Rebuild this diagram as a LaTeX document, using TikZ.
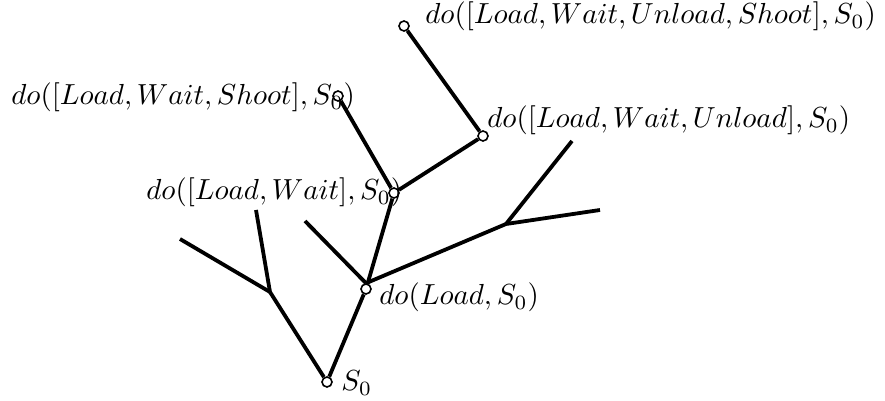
\documentclass[tikz,border=0pt]{standalone}
\begin{document}
\begin{tikzpicture}[x=0.5pt,y=-0.5pt,
  sit/.style={circle,draw,line width=0.8pt,inner sep=0pt,minimum size=5pt,fill=white},
  br/.style={line width=1.9pt},
  lab/.style={anchor=base west,inner sep=0pt}]
\newcommand{\sitlab}[1]{\scalebox{1.45}{$#1$}}
\useasboundingbox (0,0) rectangle (885,401);
% branch points
\coordinate (a) at (270,292);
\coordinate (a1) at (180,239);
\coordinate (a2) at (256,210);
\coordinate (b) at (506,224);
\coordinate (b1) at (572,141);
\coordinate (b2) at (600,210);
\coordinate (c1) at (305,221);
% edges
\node[sit,draw=none,fill=none] (s0) at (327,382) {};
\node[sit,draw=none,fill=none] (l) at (366,289) {};
\node[sit,draw=none,fill=none] (lw) at (394,193) {};
\node[sit,draw=none,fill=none] (lws) at (338,96) {};
\node[sit,draw=none,fill=none] (lwu) at (483,136) {};
\node[sit,draw=none,fill=none] (lwus) at (404,26) {};
\draw[br] (s0) -- (l);
\draw[br] (s0) -- (a);
\draw[br] (a) -- (a1);
\draw[br] (a) -- (a2);
\draw[br] (l) -- (lw);
\draw[br] (l.north) -- (c1);
\draw[br] (l.north) -- (b);
\draw[br] (b) -- (b1);
\draw[br] (b) -- (b2);
\draw[br] (lw) -- (lws);
\draw[br] (lw) -- (lwu);
\draw[br] (lwu) -- (lwus);
% situation circles
\foreach \n in {s0,l,lw,lws,lwu,lwus}
  \draw[line width=0.8pt] (\n.center) circle[radius=2.5pt];
% labels
\node[lab] (t0) at (341,391) {\sitlab{S_0}};
\node[lab] (t1) at (379,305) {\sitlab{do(Load, S_0)}};
\node[lab] (t2) at (146,200) {\sitlab{do([Load, Wait], S_0)}};
\node[lab] (t3) at (11,105) {\sitlab{do([Load, Wait, Shoot], S_0)}};
\node[lab] (t4) at (487,128) {\sitlab{do([Load, Wait, Unload], S_0)}};
\node[lab] (t5) at (425,24) {\sitlab{do([Load, Wait, Unload, Shoot], S_0)}};
\end{tikzpicture}
\end{document}
